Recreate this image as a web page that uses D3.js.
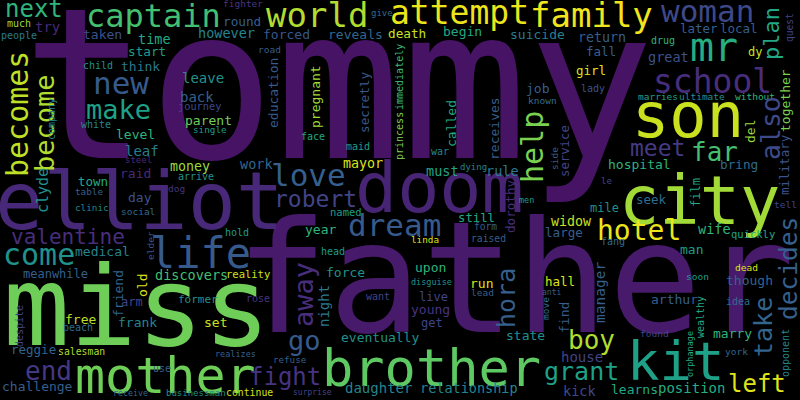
<!DOCTYPE html>
<html lang="en">
  <head>
    <meta charset="utf-8">
    <title>Word Cloud</title>
    <script src="https://d3js.org/d3.v7.min.js"></script>
    <style>
      body { margin: 0; background: #000; }
      svg { display: block; }
    </style>
  </head>
  <body>
    <script>
      const words = [
        'tommy', 'father', 'miss', 'elliot', 'doom', 'city', 'son', 'kit', 'brother', 'mother',
        'life', 'mr', 'woman', 'school', 'far', 'family', 'attempt', 'world', 'captain', 'new',
        'make', 'next', 'love', 'robert', 'dream', 'come', 'valentine', 'end', 'go', 'fight',
        'meet', 'hotel', 'boy', 'grant', 'left', 'challenge', 'relationship', 'daughter', 'eventually', 'position',
        'learns', 'kick', 'house', 'state', 'young', 'get', 'live', 'upon', 'disguise', 'run',
        'lead', 'hall', 'anti', 'large', 'widow', 'still', 'form', 'linda', 'raised', 'men',
        'mile', 'seek', 'hospital', 'bring', 'quickly', 'tell', 'wife', 'fang', 'man', 'dead',
        'soon', 'though', 'arthur', 'idea', 'found', 'marry', 'york', 'great', 'drug', 'later',
        'local', 'dy', 'marries', 'ultimate', 'without', 'le', 'return', 'fall', 'girl', 'lady',
        'job', 'known', 'suicide', 'begin', 'death', 'reveals', 'forced', 'however', 'round', 'fighter',
        'give', 'road', 'face', 'maid', 'work', 'mayor', 'war', 'must', 'dying', 'rule',
        'much', 'try', 'people', 'taken', 'time', 'start', 'child', 'think', 'white', 'level',
        'leaf', 'steel', 'money', 'raid', 'arrive', 'town', 'dog', 'table', 'day', 'journey',
        'back', 'leave', 'parent', 'single', 'clinic', 'social', 'medical', 'meanwhile', 'discovers', 'reality',
        'hold', 'year', 'named', 'head', 'force', 'rose', 'former', 'set', 'want', 'arm',
        'free', 'frank', 'beach', 'reggie', 'salesman', 'use', 'realizes', 'refuse', 'surprise', 'continue',
        'businessman', 'receive', 'becomes', 'become', 'company', 'clyde', 'education', 'pregnant', 'secretly', 'princess',
        'immediately', 'called', 'receives', 'help', 'service', 'side', 'dorothy', 'manager', 'move', 'find',
        'hora', 'away', 'night', 'plan', 'quest', 'together', 'military', 'also', 'del', 'film',
        'decides', 'take', 'wealthy', 'opponent', 'orphanage', 'despite', 'friend', 'old', 'elder'
      ]
      // relative word weights
      const weights = [
        210, 155, 111, 80, 70, 67, 62, 54, 52, 50,
        42, 40, 31, 33, 26, 34, 33, 34, 32, 31,
        27, 24, 31, 23, 31, 30, 21, 26, 27, 24,
        23, 28, 26, 25, 24, 13, 13.5, 14, 13, 14,
        13, 13.5, 14, 13, 13, 12, 12, 13, 8.5, 13,
        9.5, 12.5, 8, 12.6, 13.3, 12.3, 9.6, 9.3, 9.7, 8.5,
        12, 12.5, 13, 12.7, 10.5, 9.5, 13.5, 10, 13, 9.5,
        9.5, 13, 13, 10, 9.5, 13, 9.5, 13.5, 10, 12.5,
        12.5, 12, 9.5, 9.5, 9.5, 9, 13.3, 12.5, 12.5, 10,
        13, 9.5, 13, 13, 12.7, 13, 13, 13.5, 12.7, 9.5,
        9, 9.5, 10, 10, 13.5, 13.3, 10, 13.5, 9, 13.5,
        10, 14, 10, 13, 13.5, 12.7, 10, 13, 10, 13,
        14, 9, 13.3, 13, 10, 12.5, 9.5, 9.3, 13, 10.3,
        14, 14, 13, 9.3, 9.3, 9.5, 13, 12, 13.5, 10.5,
        10, 13, 10.5, 10, 13, 10, 11, 13, 10, 12,
        13, 13, 10, 12.5, 9.8, 10, 8.5, 9.2, 8, 9.8,
        9, 8.3, 30, 27, 10, 15, 13, 13, 12.7, 10,
        10, 13, 13, 30, 12.3, 9.5, 12.6, 14.5, 9.5, 13,
        25, 27, 14, 22, 9.6, 13, 12.5, 26.5, 13, 12,
        24.5, 25, 10, 10, 8.5, 10, 13, 13, 9.5
      ]
      // cloud layout coordinates (baseline start of each word)
      const cloudX = [
        22, 235, 3, -5, 355, 619, 632, 627, 322, 75,
        150, 690, 661, 653, 691, 530, 390, 266, 86, 93,
        86, 5, 271, 274, 348, 3, 11, 25, 288, 249,
        630, 597, 568, 544, 728, 2, 420, 345, 341, 658,
        611, 563, 561, 506, 411, 421, 419, 415, 411, 470,
        471, 545, 542, 545, 551, 458, 474, 411, 471, 519,
        590, 636, 608, 720, 731, 774, 698, 601, 680, 735,
        686, 726, 651, 726, 640, 713, 725, 648, 651, 680,
        720, 748, 638, 679, 735, 601, 578, 586, 576, 581,
        526, 528, 510, 443, 388, 328, 263, 198, 223, 223,
        371, 258, 301, 346, 240, 343, 431, 426, 460, 486,
        7, 35, 1, 83, 138, 128, 83, 121, 81, 116,
        125, 125, 170, 120, 178, 78, 168, 75, 128, 178,
        180, 182, 185, 193, 75, 121, 75, 23, 155, 226,
        225, 305, 330, 321, 326, 246, 178, 204, 366, 121,
        65, 118, 63, 11, 58, 153, 215, 273, 293, 226,
        166, 113, 28, 54, 55, 48, 278, 320, 369, 403,
        403, 456, 499, 543, 569, 558, 515, 605, 549, 569,
        515, 313, 329, 779, 793, 790, 789, 780, 755, 700,
        797, 772, 704, 789, 693, 23, 123, 147, 154
      ]
      const cloudY = [
        158, 332, 345, 229, 212, 224, 137, 380, 386, 393,
        268, 61, 22, 93, 161, 27, 24, 27, 27, 94,
        119, 17, 186, 207, 236, 265, 244, 380, 350, 385,
        156, 240, 349, 380, 392, 391, 393, 393, 342, 393,
        394, 396, 362, 340, 314, 327, 301, 272, 285, 288,
        296, 286, 295, 237, 226, 222, 230, 243, 242, 203,
        212, 204, 169, 169, 238, 208, 234, 245, 254, 271,
        280, 285, 304, 305, 337, 338, 355, 62, 44, 33,
        33, 56, 100, 100, 100, 184, 42, 56, 75, 92,
        93, 104, 39, 36, 38, 39, 39, 38, 26, 7,
        16, 53, 140, 150, 169, 168, 155, 176, 170, 176,
        27, 32, 39, 39, 44, 56, 69, 71, 128, 139,
        156, 163, 171, 178, 180, 186, 192, 195, 202, 110,
        102, 83, 125, 133, 211, 215, 256, 278, 280, 278,
        236, 234, 216, 255, 277, 302, 303, 327, 300, 306,
        324, 327, 331, 354, 355, 372, 357, 363, 395, 396,
        396, 396, 177, 172, 140, 213, 128, 128, 133, 160,
        110, 147, 160, 183, 177, 170, 233, 323, 320, 333,
        328, 327, 327, 60, 42, 132, 195, 160, 143, 207,
        320, 357, 338, 377, 377, 347, 317, 297, 260
      ]
      // 1 = word runs upward
      const vertical = [
        0, 0, 0, 0, 0, 0, 0, 0, 0, 0,
        0, 0, 0, 0, 0, 0, 0, 0, 0, 0,
        0, 0, 0, 0, 0, 0, 0, 0, 0, 0,
        0, 0, 0, 0, 0, 0, 0, 0, 0, 0,
        0, 0, 0, 0, 0, 0, 0, 0, 0, 0,
        0, 0, 0, 0, 0, 0, 0, 0, 0, 0,
        0, 0, 0, 0, 0, 0, 0, 0, 0, 0,
        0, 0, 0, 0, 0, 0, 0, 0, 0, 0,
        0, 0, 0, 0, 0, 0, 0, 0, 0, 0,
        0, 0, 0, 0, 0, 0, 0, 0, 0, 0,
        0, 0, 0, 0, 0, 0, 0, 0, 0, 0,
        0, 0, 0, 0, 0, 0, 0, 0, 0, 0,
        0, 0, 0, 0, 0, 0, 0, 0, 0, 0,
        0, 0, 0, 0, 0, 0, 0, 0, 0, 0,
        0, 0, 0, 0, 0, 0, 0, 0, 0, 0,
        0, 0, 0, 0, 0, 0, 0, 0, 0, 0,
        0, 0, 1, 1, 1, 1, 1, 1, 1, 1,
        1, 1, 1, 1, 1, 1, 1, 1, 1, 1,
        1, 1, 1, 1, 1, 1, 1, 1, 1, 1,
        1, 1, 1, 1, 1, 1, 1, 1, 1
      ]
      // position on the viridis ramp
      const shade = [
        .05, .07, .78, .11, .10, .86, .92, .57, .75, .78,
        .28, .62, .22, .13, .70, .98, .97, .88, .70, .28,
        .57, .65, .30, .20, .28, .50, .13, .17, .28, .15,
        .17, .97, .88, .57, .95, .30, .45, .45, .50, .62,
        .60, .22, .20, .50, .15, .20, .20, .65, .50, .95,
        .30, .95, .30, .30, .92, .60, .30, .95, .30, .55,
        .50, .35, .65, .35, .60, .20, .65, .35, .55, .95,
        .55, .32, .30, .35, .20, .65, .33, .25, .65, .30,
        .30, .92, .57, .50, .65, .20, .30, .30, .95, .25,
        .30, .35, .42, .60, .92, .33, .27, .45, .30, .15,
        .35, .30, .60, .55, .33, .95, .45, .58, .45, .40,
        .85, .12, .42, .25, .60, .55, .50, .40, .45, .65,
        .42, .12, .85, .12, .50, .60, .15, .30, .25, .22,
        .30, .50, .78, .55, .45, .35, .45, .30, .70, .93,
        .55, .65, .55, .55, .50, .15, .50, .92, .20, .20,
        .90, .45, .35, .32, .88, .30, .30, .30, .20, .93,
        .50, .33, .90, .88, .45, .50, .28, .86, .27, .80,
        .68, .60, .30, .80, .20, .30, .13, .30, .35, .30,
        .30, .13, .40, .60, .20, .80, .25, .22, .85, .60,
        .30, .32, .60, .45, .60, .20, .32, .95, .25
      ]

      const w = 800
      const h = 400
      const data = words.map((d, i) => ({
        text: d,
        weight: weights[i],
        cx: cloudX[i],
        cy: cloudY[i],
        up: vertical[i] === 1,
        shade: shade[i]
      }))

      const xScale = d3.scaleLinear().domain([0, 800]).range([0, w])
      const yScale = d3.scaleLinear().domain([0, 400]).range([0, h])
      const sizeScale = d3.scaleLinear()
        .domain([0, d3.max(weights)])
        .range([0, 210])
      const colorScale = d3.scaleSequential(d3.interpolateViridis).domain([0, 1])

      const svg = d3.select('body')
        .append('svg')
        .attr('width', w)
        .attr('height', h)

      svg.append('rect')
        .attr('width', w)
        .attr('height', h)
        .attr('fill', '#000')

      svg.append('g')
        .attr('id', 'cloud')
        .selectAll('text')
        .data(data)
        .enter()
        .append('text')
        .attr('class', 'word')
        .attr('transform', (d) => 'translate(' + xScale(d.cx) + ',' + yScale(d.cy) + ')' + (d.up ? ' rotate(-90)' : ''))
        .attr('font-family', "'DejaVu Sans Mono', monospace")
        .attr('font-size', (d) => sizeScale(d.weight))
        .attr('fill', (d) => colorScale(d.shade))
        .text((d) => d.text)
    </script>
  </body>
</html>
